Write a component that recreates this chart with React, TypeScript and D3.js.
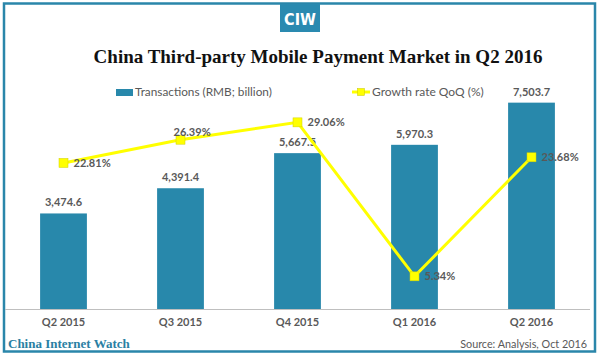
import React from "react";
import * as d3 from "d3";

const categories = ["Q2 2015", "Q3 2015", "Q4 2015", "Q1 2016", "Q2 2016"];
const transactions = [3474.6, 4391.4, 5667.5, 5970.3, 7503.7];
const growth = [22.81, 26.39, 29.06, 5.34, 23.68];
const transactionLabels = ["3,474.6", "4,391.4", "5,667.5", "5,970.3", "7,503.7"];
const growthLabels = ["22.81%", "26.39%", "29.06%", "5.34%", "23.68%"];

const W = 600;
const H = 356;
const BAR = "#2888ab";
const YEL = "#ffff00";
const GRAY = "#595959";
const SANS = "Lato, 'Open Sans', sans-serif";
const SERIF = "'Liberation Serif', 'DejaVu Serif', serif";

export default function App() {
  const x = d3.scaleBand<string>().domain(categories).range([5, 590]).paddingInner(0.6).paddingOuter(0.3);
  const y = d3.scaleLinear().domain([0, 8000]).range([309, 89]);
  const y2 = d3.scaleLinear().domain([0, 34.2]).range([311, 89]);
  const cx = (c: string) => (x(c) ?? 0) + x.bandwidth() / 2;
  const line = d3
    .line<number>()
    .x((_, i) => cx(categories[i]))
    .y((d) => y2(d));

  return (
    <svg width={W} height={H} style={{ position: "absolute", left: 0, top: 0, background: "#fff" }}>
      <rect x={0} y={0} width={W} height={H} fill="#fff" />
      <rect x={4} y={3.5} width={591} height={348} fill="none" stroke="#2a86aa" strokeWidth={2.5} />
      <rect x={280} y={4} width={40} height={28} fill="#2a8ab0" />
      <text x={300} y={25} textAnchor="middle" fill="#fff" fontFamily="'Liberation Sans Narrow', 'DejaVu Sans Condensed', 'Liberation Sans', sans-serif" fontWeight="bold" fontSize={16}>
        CIW
      </text>
      <text x={318} y={63} textAnchor="middle" fill="#111" fontFamily={SERIF} fontWeight="bold" fontSize={19}>
        China Third-party Mobile Payment Market in Q2 2016
      </text>

      {/* legend */}
      <rect x={116} y={89} width={17} height={7} fill={BAR} />
      <text x={135} y={96} fill={GRAY} fontFamily={SANS} fontSize={11.8}>
        Transactions (RMB; billion)
      </text>
      <line x1={352} x2={370} y1={92} y2={92} stroke={YEL} strokeWidth={3} />
      <rect x={357.5} y={88.5} width={7} height={7} fill={YEL} stroke="#c8c800" strokeWidth={0.5} />
      <text x={372} y={96} fill={GRAY} fontFamily={SANS} fontSize={12}>
        Growth rate QoQ (%)
      </text>

      {/* bars */}
      {categories.map((c, i) => (
        <g key={c}>
          <rect x={x(c)} y={y(transactions[i])} width={x.bandwidth()} height={y(0) - y(transactions[i])} fill={BAR} />
          <text x={cx(c)} y={y(transactions[i]) - 7} textAnchor="middle" fill={GRAY} fontFamily={SANS} fontWeight="bold" fontSize={11}>
            {transactionLabels[i]}
          </text>
          <text x={cx(c)} y={326} textAnchor="middle" fill={GRAY} fontFamily={SANS} fontWeight="bold" fontSize={11}>
            {c}
          </text>
        </g>
      ))}

      <line x1={5} x2={590} y1={309.5} y2={309.5} stroke="#bfbfbf" strokeWidth={1} />

      {/* growth line */}
      <path d={line(growth) ?? ""} fill="none" stroke={YEL} strokeWidth={3} />
      {growth.map((g, i) => (
        <rect key={i} x={cx(categories[i]) - 4.5} y={y2(g) - 4.5} width={9} height={9} fill={YEL} stroke="#d0d000" strokeWidth={0.5} />
      ))}
      {growth.map((g, i) => {
        const dx = i === 1 ? -7 : 10;
        const dy = i === 1 ? -4 : 4;
        return (
          <text key={"g" + i} x={cx(categories[i]) + dx} y={y2(g) + dy} fill={GRAY} fontFamily={SANS} fontWeight="bold" fontSize={11}>
            {growthLabels[i]}
          </text>
        );
      })}

      <text x={8} y={348} fill="#2a7fa3" fontFamily={SERIF} fontWeight="bold" fontSize={13}>
        China Internet Watch
      </text>
      <text x={587} y={348} textAnchor="end" fill={GRAY} fontFamily={SANS} fontSize={10.8}>
        Source: Analysis, Oct 2016
      </text>
    </svg>
  );
}
